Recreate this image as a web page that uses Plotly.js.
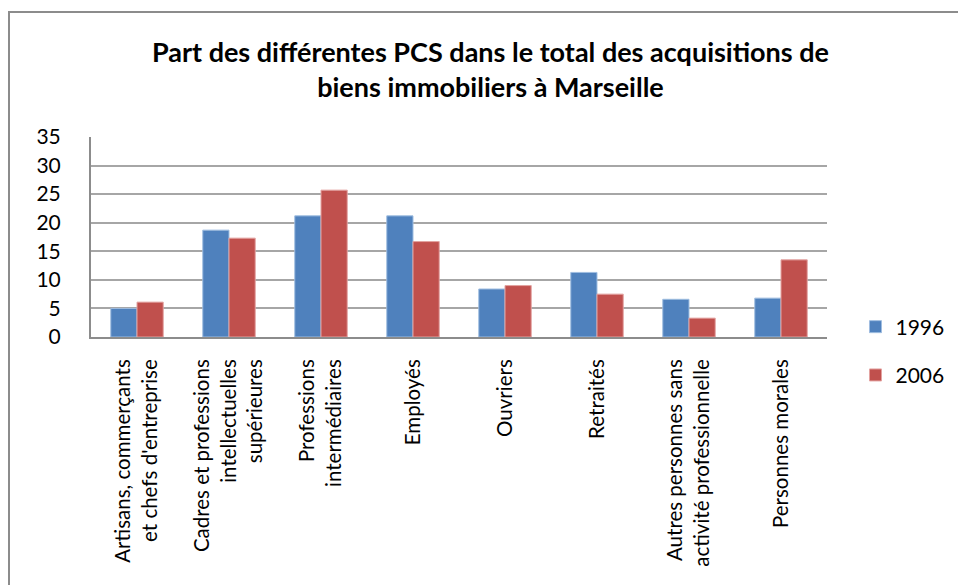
<!DOCTYPE html>
<html>
<head>
<meta charset="utf-8">
<script src="https://cdn.plot.ly/plotly-3.0.1.min.js"></script>
<style>
  html, body { margin: 0; padding: 0; background: #fff; overflow: hidden; }
  #frame { position: absolute; left: 8px; top: 11px; width: 960px; height: 590px;
           border-left: 2px solid #8c8c8c; border-top: 2px solid #8c8c8c; }
  #chart { position: absolute; left: 0; top: 0; width: 958px; height: 585px; }
</style>
</head>
<body>
<div id="frame"></div>
<div id="chart"></div>
<script>
const categories = [
  "Artisans, commerçants<br>et chefs d'entreprise",
  "Cadres et professions<br>intellectuelles<br>supérieures",
  "Professions<br>intermédiaires",
  "Employés",
  "Ouvriers",
  "Retraités",
  "Autres personnes sans<br>activité professionnelle",
  "Personnes morales"
];
const values1996 = [5.0, 18.7, 21.2, 21.2, 8.4, 11.3, 6.6, 6.8];
const values2006 = [6.1, 17.3, 25.7, 16.7, 9.0, 7.5, 3.3, 13.5];
const seriesNames = ["1996", "2006"];
const yTicks = [0, 5, 10, 15, 20, 25, 30, 35];

const FONT = "Lato, 'Open Sans', sans-serif";

const traces = [
  { type: "bar", name: seriesNames[0], x: categories, y: values1996, legendgroup: "a",
    marker: { color: "#4F81BD", line: { color: "#9fbde0", width: 1 } } },
  { type: "bar", name: seriesNames[1], x: categories, y: values2006, legendgroup: "b",
    marker: { color: "#C0504D", line: { color: "#e3a3a1", width: 1 } } }
];

const layout = {
  width: 958, height: 585,
  paper_bgcolor: "rgba(0,0,0,0)", plot_bgcolor: "#fff",
  margin: { l: 91, r: 131, t: 137, b: 248 },
  title: {
    text: "<b>Part des différentes PCS dans le total des acquisitions de<br>biens immobiliers à Marseille</b>",
    font: { family: FONT, size: 27, color: "#000" },
    x: 0.512, xanchor: "center", y: 0.894, yanchor: "middle"
  },
  barmode: "group", bargap: 0.43, bargroupgap: 0,
  xaxis: {
    type: "category", showgrid: false, showline: true, linecolor: "#8c8c8c", linewidth: 2,
    tickangle: -90, tickfont: { family: FONT, size: 20.5, color: "#000" },
    ticks: "", ticklabelstandoff: 12, automargin: false
  },
  yaxis: {
    range: [0, 35], tickvals: yTicks, showgrid: true, gridcolor: "#a6a6a6", gridwidth: 2,
    showline: true, linecolor: "#8c8c8c", linewidth: 2, zeroline: false,
    tickfont: { family: FONT, size: 21, color: "#000" }, ticks: "",
    ticklabelstandoff: 24, automargin: false
  },
  legend: {
    xref: "container", yref: "container",
    x: 0.893, xanchor: "left", y: 0.4, yanchor: "middle",
    font: { family: FONT, size: 21, color: "#000" },
    traceorder: "grouped", tracegroupgap: 18, itemwidth: 30
  },
  showlegend: true
};

Plotly.newPlot("chart", traces, layout, { displayModeBar: false, staticPlot: true });
</script>
</body>
</html>
